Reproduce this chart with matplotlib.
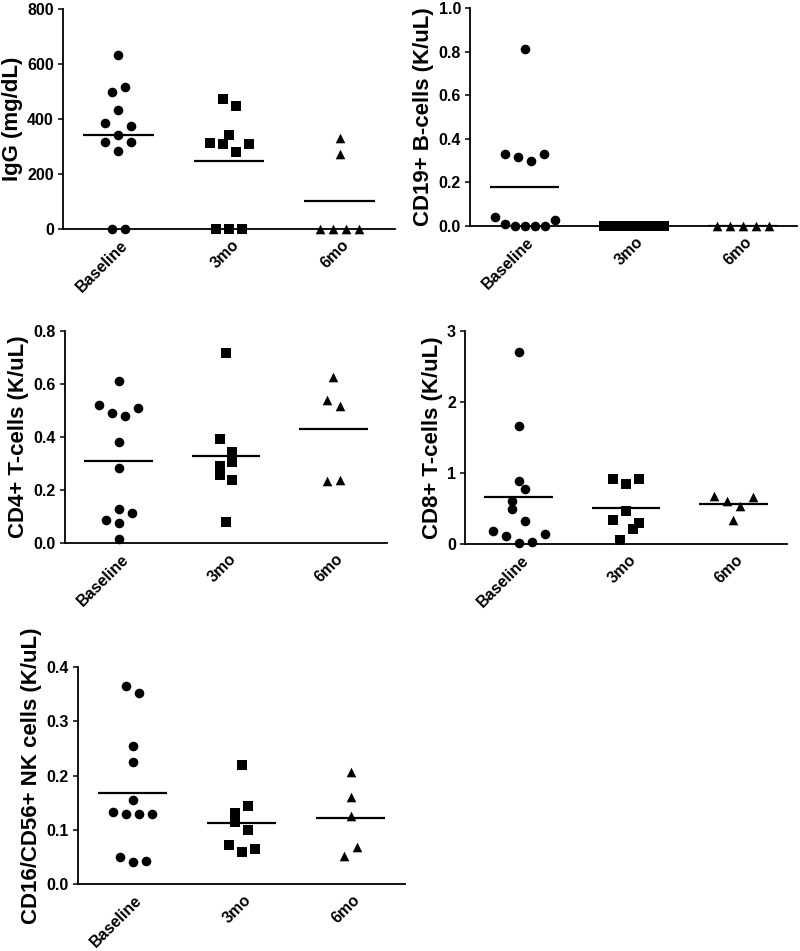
import numpy as np
import matplotlib
matplotlib.use('Agg')
import matplotlib.pyplot as plt
from matplotlib.ticker import FormatStrFormatter
from matplotlib.transforms import ScaledTranslation

plt.rcParams['font.family'] = ['Liberation Sans', 'DejaVu Sans']
plt.rcParams['font.weight'] = 'bold'

groups = ['Baseline', '3mo', '6mo']

# values per group, listed row by row (left to right) as in the original scatter
igg_base = [0, 0, 317, 283, 317, 384, 341, 376, 432, 499, 515, 632]
igg_3mo = [0, 0, 0, 311, 308, 279, 310, 341, 471, 448]
igg_6mo = [0, 0, 0, 0, 272, 331]

cd19_base = [0.041, 0.008, 0, 0, 0, 0, 0.026, 0.331, 0.318, 0.300, 0.331, 0.81]
cd19_3mo = [0, 0, 0, 0, 0, 0, 0, 0]
cd19_6mo = [0, 0, 0, 0, 0]

cd4_base = [0.015, 0.086, 0.077, 0.113, 0.130, 0.283, 0.380, 0.519, 0.489, 0.481, 0.508, 0.611]
cd4_3mo = [0.079, 0.256, 0.239, 0.291, 0.304, 0.391, 0.343, 0.718]
cd4_6mo = [0.233, 0.237, 0.539, 0.517, 0.627]

cd8_base = [0.19, 0.113, 0.01, 0.028, 0.136, 0.497, 0.328, 0.600, 0.778, 0.886, 1.66, 2.70]
cd8_3mo = [0.056, 0.206, 0.338, 0.469, 0.291, 0.909, 0.849, 0.909]
cd8_6mo = [0.67, 0.60, 0.54, 0.66, 0.34]

nk_base = [0.0503, 0.040, 0.042, 0.1325, 0.129, 0.129, 0.129, 0.155, 0.225, 0.254, 0.3656, 0.3515]
nk_3mo = [0.0712, 0.0583, 0.0644, 0.1135, 0.0994, 0.131, 0.144, 0.219]
nk_6mo = [0.0515, 0.0681, 0.1258, 0.1607, 0.2067]

ylabels = ['IgG (mg/dL)', 'CD19+ B-cells (K/uL)', 'CD4+ T-cells (K/uL)',
           'CD8+ T-cells (K/uL)', 'CD16/CD56+ NK cells (K/uL)']
yticks = [[0, 200, 400, 600, 800],
          [0.0, 0.2, 0.4, 0.6, 0.8, 1.0],
          [0.0, 0.2, 0.4, 0.6, 0.8],
          [0, 1, 2, 3],
          [0.0, 0.1, 0.2, 0.3, 0.4]]
yfmt = ['%d', '%.1f', '%.1f', '%d', '%.1f']
panels = [(igg_base, igg_3mo, igg_6mo), (cd19_base, cd19_3mo, cd19_6mo),
          (cd4_base, cd4_3mo, cd4_6mo), (cd8_base, cd8_3mo, cd8_6mo),
          (nk_base, nk_3mo, nk_6mo)]

W, H = 800, 951
# axes boxes in pixels: left, right, top, bottom
boxes = [(63, 395, 9, 229), (470, 797, 8, 226), (65, 387, 331, 543),
         (465, 787, 331, 544), (78, 405, 667, 884)]
markers = ['o', 's', '^']
msize = [48, 44, 48]

ROW_PX = 13.3   # points closer than this vertically share a row
STEP_PX = 13.0  # horizontal spacing in a row
SPAN_PX = 60.0  # max row width


def swarm(vals, ax_w, ax_h, yrange):
    vals = np.asarray(vals, float)
    order = np.argsort(vals, kind='stable')
    h = ROW_PX * yrange / ax_h
    rows = []
    for i in order:
        if rows and vals[i] - vals[rows[-1][0]] < h:
            rows[-1].append(i)
        else:
            rows.append([i])
    offs = np.zeros(len(vals))
    for row in rows:
        row = sorted(row)
        n = len(row)
        step = min(STEP_PX, SPAN_PX / (n - 1)) if n > 1 else 0
        for k, i in enumerate(row):
            offs[i] = (k - (n - 1) / 2) * step
    return offs * 3.0 / ax_w


fig = plt.figure(figsize=(W / 100, H / 100), dpi=100)
shift = ScaledTranslation(2 / 100, 0, fig.dpi_scale_trans)

for p, (data, box) in enumerate(zip(panels, boxes)):
    l, r, t, b = box
    ax = fig.add_axes([l / W, 1 - b / H, (r - l) / W, (b - t) / H])
    ymin, ymax = yticks[p][0], yticks[p][-1]
    ax.set_xlim(-0.5, 2.5)
    ax.set_ylim(ymin, ymax)
    for g, vals in enumerate(data):
        off = swarm(vals, r - l, b - t, ymax - ymin)
        ax.scatter(g + off, vals, marker=markers[g], s=msize[g], color='black',
                   linewidths=0, clip_on=False, zorder=3)
        m = np.mean(vals)
        ax.plot([g - 0.32, g + 0.32], [m, m], color='black', lw=1.6,
                solid_capstyle='butt', zorder=2)
    for s in ['top', 'right']:
        ax.spines[s].set_visible(False)
    for s in ['left', 'bottom']:
        ax.spines[s].set_linewidth(1.3)
    ax.set_yticks(yticks[p])
    ax.yaxis.set_major_formatter(FormatStrFormatter(yfmt[p]))
    ax.tick_params(axis='y', length=3.5, width=1.1, pad=3, labelsize=11.5)
    ax.set_xticks(range(3))
    ax.set_xticklabels(groups, rotation=45, ha='right', va='top',
                       rotation_mode='anchor', fontsize=11.5)
    ax.tick_params(axis='x', length=0, pad=6)
    for lab in ax.get_xticklabels():
        lab.set_transform(lab.get_transform() + shift)
    ax.set_ylabel(ylabels[p], fontsize=16, fontweight='bold', labelpad=3)

fig.savefig('out.png', dpi=100)
